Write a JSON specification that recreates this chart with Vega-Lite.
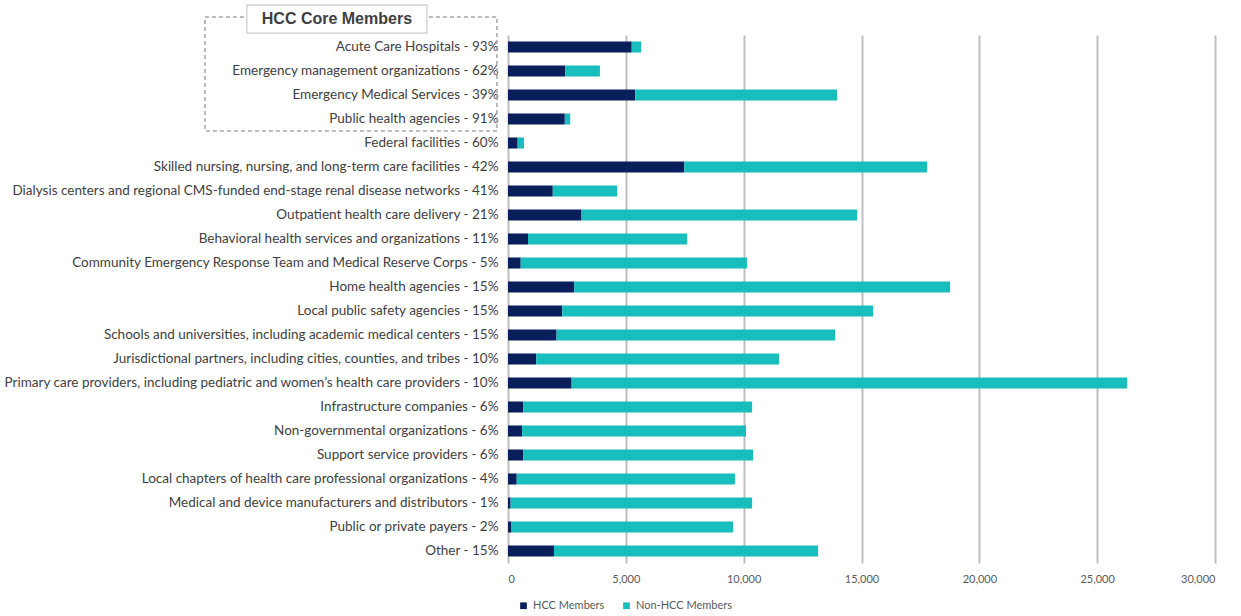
{
  "$schema": "https://vega.github.io/schema/vega-lite/v6.json",
  "width": 707,
  "height": 528,
  "autosize": {"type": "none"},
  "padding": {"left": 508, "top": 35, "right": 26, "bottom": 53},
  "background": "white",
  "config": {"view": {"stroke": null}, "font": "Lato"},
  "resolve": {"scale": {"y": "independent"}},
  "layer": [
    {
      "data": {"values": [
        {"rank": 1, "category": "Acute Care Hospitals - 93%", "group": "HCC Members", "value": 5250},
        {"rank": 1, "category": "Acute Care Hospitals - 93%", "group": "Non-HCC Members", "value": 400},
        {"rank": 2, "category": "Emergency management organizations - 62%", "group": "HCC Members", "value": 2430},
        {"rank": 2, "category": "Emergency management organizations - 62%", "group": "Non-HCC Members", "value": 1470},
        {"rank": 3, "category": "Emergency Medical Services - 39%", "group": "HCC Members", "value": 5400},
        {"rank": 3, "category": "Emergency Medical Services - 39%", "group": "Non-HCC Members", "value": 8560},
        {"rank": 4, "category": "Public health agencies - 91%", "group": "HCC Members", "value": 2410},
        {"rank": 4, "category": "Public health agencies - 91%", "group": "Non-HCC Members", "value": 230},
        {"rank": 5, "category": "Federal facilities - 60%", "group": "HCC Members", "value": 410},
        {"rank": 5, "category": "Federal facilities - 60%", "group": "Non-HCC Members", "value": 270},
        {"rank": 6, "category": "Skilled nursing, nursing, and long-term care facilities - 42%", "group": "HCC Members", "value": 7480},
        {"rank": 6, "category": "Skilled nursing, nursing, and long-term care facilities - 42%", "group": "Non-HCC Members", "value": 10300},
        {"rank": 7, "category": "Dialysis centers and regional CMS-funded end-stage renal disease networks - 41%", "group": "HCC Members", "value": 1900},
        {"rank": 7, "category": "Dialysis centers and regional CMS-funded end-stage renal disease networks - 41%", "group": "Non-HCC Members", "value": 2730},
        {"rank": 8, "category": "Outpatient health care delivery  - 21%", "group": "HCC Members", "value": 3120},
        {"rank": 8, "category": "Outpatient health care delivery  - 21%", "group": "Non-HCC Members", "value": 11690},
        {"rank": 9, "category": "Behavioral health services and organizations - 11%", "group": "HCC Members", "value": 850},
        {"rank": 9, "category": "Behavioral health services and organizations - 11%", "group": "Non-HCC Members", "value": 6750},
        {"rank": 10, "category": "Community Emergency Response Team and Medical Reserve Corps - 5%", "group": "HCC Members", "value": 540},
        {"rank": 10, "category": "Community Emergency Response Team and Medical Reserve Corps - 5%", "group": "Non-HCC Members", "value": 9600},
        {"rank": 11, "category": "Home health agencies - 15%", "group": "HCC Members", "value": 2810},
        {"rank": 11, "category": "Home health agencies - 15%", "group": "Non-HCC Members", "value": 15950},
        {"rank": 12, "category": "Local public safety agencies - 15%", "group": "HCC Members", "value": 2300},
        {"rank": 12, "category": "Local public safety agencies - 15%", "group": "Non-HCC Members", "value": 13190},
        {"rank": 13, "category": "Schools and universities, including academic medical centers - 15%", "group": "HCC Members", "value": 2060},
        {"rank": 13, "category": "Schools and universities, including academic medical centers - 15%", "group": "Non-HCC Members", "value": 11820},
        {"rank": 14, "category": "Jurisdictional partners, including cities, counties, and tribes - 10%", "group": "HCC Members", "value": 1200},
        {"rank": 14, "category": "Jurisdictional partners, including cities, counties, and tribes - 10%", "group": "Non-HCC Members", "value": 10300},
        {"rank": 15, "category": "Primary care providers, including pediatric and women’s health care providers - 10%", "group": "HCC Members", "value": 2700},
        {"rank": 15, "category": "Primary care providers, including pediatric and women’s health care providers - 10%", "group": "Non-HCC Members", "value": 23570},
        {"rank": 16, "category": "Infrastructure companies - 6%", "group": "HCC Members", "value": 640},
        {"rank": 16, "category": "Infrastructure companies - 6%", "group": "Non-HCC Members", "value": 9720},
        {"rank": 17, "category": "Non-governmental organizations - 6%", "group": "HCC Members", "value": 600},
        {"rank": 17, "category": "Non-governmental organizations - 6%", "group": "Non-HCC Members", "value": 9500},
        {"rank": 18, "category": "Support service providers - 6%", "group": "HCC Members", "value": 640},
        {"rank": 18, "category": "Support service providers - 6%", "group": "Non-HCC Members", "value": 9760},
        {"rank": 19, "category": "Local chapters of health care professional organizations - 4%", "group": "HCC Members", "value": 370},
        {"rank": 19, "category": "Local chapters of health care professional organizations - 4%", "group": "Non-HCC Members", "value": 9260},
        {"rank": 20, "category": "Medical and device manufacturers and distributors - 1%", "group": "HCC Members", "value": 110},
        {"rank": 20, "category": "Medical and device manufacturers and distributors - 1%", "group": "Non-HCC Members", "value": 10250},
        {"rank": 21, "category": "Public or private payers - 2%", "group": "HCC Members", "value": 150},
        {"rank": 21, "category": "Public or private payers - 2%", "group": "Non-HCC Members", "value": 9400},
        {"rank": 22, "category": "Other - 15%", "group": "HCC Members", "value": 1950},
        {"rank": 22, "category": "Other - 15%", "group": "Non-HCC Members", "value": 11210}
      ]},
      "mark": {"type": "bar"},
      "encoding": {
        "y": {
          "field": "category", "type": "nominal", "title": null,
          "sort": {"field": "rank", "op": "min", "order": "ascending"},
          "scale": {"paddingInner": 0.54, "paddingOuter": 0.27},
          "axis": {"ticks": false, "domain": false, "labelLimit": 700, "labelPadding": 10, "labelFontSize": 13.5, "labelColor": "#404040", "labelFont": "Lato"}
        },
        "x": {
          "field": "value", "type": "quantitative", "stack": "zero", "title": null,
          "scale": {"domain": [0, 30000], "nice": false},
          "axis": {"values": [0, 5000, 10000, 15000, 20000, 25000, 30000], "labelExpr": "format(datum.value, ',')", "grid": true, "gridColor": "#bfbfbf", "gridWidth": 2, "domain": false, "ticks": false, "labelPadding": 10, "labelFontSize": 11, "labelColor": "#595959", "labelFont": "Lato"}
        },
        "color": {
          "field": "group", "type": "nominal",
          "scale": {"domain": ["HCC Members", "Non-HCC Members"], "range": ["#0b1f5c", "#17bebb"]},
          "legend": {"orient": "none", "direction": "horizontal", "legendX": 10, "legendY": 565, "title": null, "symbolType": "square", "symbolSize": 45, "labelFontSize": 11, "labelColor": "#595959", "labelFont": "Lato", "columnPadding": 16, "symbolStrokeWidth": 0}
        },
        "order": {"field": "group", "sort": "ascending"}
      }
    },
    {
      "data": {"values": [{"note": "HCC Core Members"}]},
      "layer": [
        {
          "mark": {"type": "rect", "fill": null, "filled": false, "stroke": "#a6a6a6", "strokeWidth": 1.5, "strokeDash": [4, 3], "clip": false},
          "encoding": {
            "x": {"datum": -12860, "type": "quantitative"},
            "x2": {"datum": -470},
            "y": {"datum": -0.75, "type": "quantitative", "scale": {"domain": [0, 22], "reverse": true, "nice": false, "zero": false}, "axis": null},
            "y2": {"datum": 4}
          }
        },
        {
          "mark": {"type": "rect", "fill": "white", "stroke": "#bfbfbf", "strokeWidth": 1, "clip": false},
          "encoding": {
            "x": {"datum": -11080, "type": "quantitative"},
            "x2": {"datum": -3440},
            "y": {"datum": -1.25, "type": "quantitative", "scale": {"domain": [0, 22], "reverse": true, "nice": false, "zero": false}, "axis": null},
            "y2": {"datum": -0.08}
          }
        },
        {
          "mark": {"type": "text", "font": "Liberation Sans", "fontWeight": "bold", "fontSize": 16, "color": "#404040", "align": "center", "baseline": "middle", "clip": false},
          "encoding": {
            "x": {"datum": -7260, "type": "quantitative"},
            "y": {"datum": -0.67, "type": "quantitative", "scale": {"domain": [0, 22], "reverse": true, "nice": false, "zero": false}, "axis": null},
            "text": {"field": "note"}
          }
        }
      ]
    }
  ]
}
